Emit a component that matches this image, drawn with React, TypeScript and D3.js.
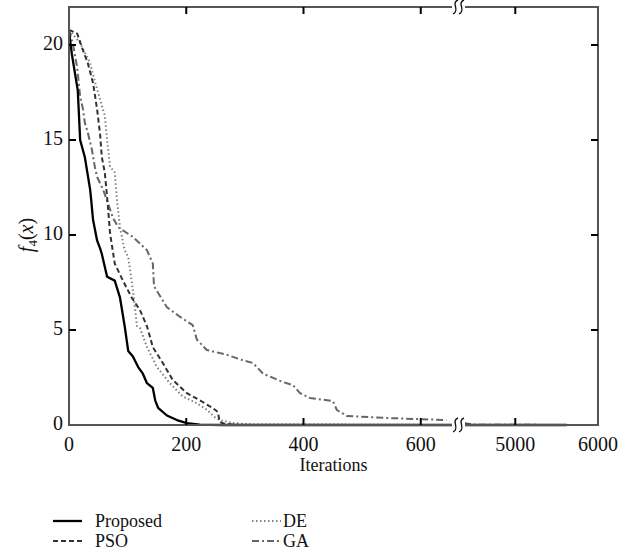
import React from "react";
import * as d3 from "d3";

// ---- data ----
const proposedIter = [0,5,15,19,27,36,38,41,48,53,56,65,78,87,95,101,109,118,126,133,143,147,152,167,184,201,223,260,655,4380,5620];
const proposedVal = [20.7,19.5,17.6,15.0,14.1,12.4,11.8,10.8,9.7,9.3,9.0,7.8,7.6,6.7,5.2,3.9,3.6,3.05,2.7,2.2,1.95,1.3,0.9,0.5,0.26,0.1,0.02,0,0,0,0];

const psoIter = [0,14,24,32,41,48,53,56,61,65,70,78,92,107,121,133,143,160,177,201,223,245,254,257,266,290,655,4380,5620];
const psoVal = [20.8,20.6,19.7,19.05,18,16.6,15.3,14.1,13.3,12,10.1,8.5,7.6,6.7,6.05,5.2,4.1,3.26,2.37,1.68,1.3,0.9,0.68,0.16,0.05,0,0,0,0];

const deIter = [0,19,36,44,58,61,65,70,78,82,87,95,101,109,116,121,133,150,172,194,218,235,249,257,280,314,470,655,4380,5620];
const deVal = [20.8,20.1,19.05,18.1,16.6,16.3,15.0,13.6,13.3,11.8,10.4,9.2,8.85,7.1,5.2,5.1,4.1,3.05,2.2,1.5,1.15,0.8,0.4,0.26,0.1,0.03,0.02,0,0,0];

const gaIter = [0,7,14,19,24,27,32,39,44,48,58,65,75,84,109,133,143,145,167,189,211,218,235,269,297,314,331,365,382,394,411,450,457,474,542,644,4380,4500,5620];
const gaVal = [20.8,20,18.8,17.3,16.6,15.9,15.4,14.5,13.6,13.05,12.4,11.8,10.9,10.4,9.9,9.2,8.5,7.3,6.2,5.7,5.26,4.5,3.95,3.7,3.4,3.26,2.7,2.26,2.1,1.68,1.42,1.26,0.79,0.47,0.37,0.26,0.1,0.02,0];

const xTicks1 = [0, 200, 400, 600];
const xTicks2 = [5000, 6000];
const yTicks = [0, 5, 10, 15, 20];

const seriesNames = ["Proposed", "PSO", "DE", "GA"];

// ---- layout ----
const W = 636, H = 556;
const L = 69, R = 598, T = 7, B = 425;
const breakL = 452, breakR = 465;
const seg1Max = 655, seg2Min = 4380;

const x1 = d3.scaleLinear().domain([0, seg1Max]).range([L, 453]);
const x2 = d3.scaleLinear().domain([seg2Min, 6000]).range([464, R]);
const y = d3.scaleLinear().domain([0, 22]).range([B, T]);
const xPos = (v: number) => (v <= seg1Max ? x1(v) : x2(v));

const styles: Record<string, { stroke: string; width: number; dash?: string }> = {
  Proposed: { stroke: "#000", width: 2.3 },
  PSO: { stroke: "#333", width: 2, dash: "5,3" },
  DE: { stroke: "#808080", width: 2, dash: "1.5,2.5" },
  GA: { stroke: "#666", width: 2, dash: "7,3,2,3" },
};

const seriesData: Record<string, [number[], number[]]> = {
  Proposed: [proposedIter, proposedVal],
  PSO: [psoIter, psoVal],
  DE: [deIter, deVal],
  GA: [gaIter, gaVal],
};

const line = d3
  .line<[number, number]>()
  .x((d) => xPos(d[0]))
  .y((d) => y(d[1]))
  .curve(d3.curveLinear);

const FONT = "'Liberation Serif', 'Times New Roman', serif";

function breakMark(cx: number, cy: number, key: string) {
  const s = (x: number) =>
    `M${x + 2.5},${cy - 7} C${x - 5},${cy - 4} ${x + 5},${cy + 3} ${x - 2.5},${cy + 7}`;
  return (
    <g key={key}>
      <rect x={breakL} y={cy - 3} width={breakR - breakL} height={6} fill="#fff" />
      <path d={s(cx - 3)} fill="none" stroke="#111" strokeWidth={1.4} />
      <path d={s(cx + 3)} fill="none" stroke="#111" strokeWidth={1.4} />
    </g>
  );
}

export default function App() {
  const order = ["GA", "DE", "PSO", "Proposed"];
  const paths: React.ReactNode[] = [];
  order.forEach((name) => {
    const [it, vals] = seriesData[name];
    const pts: [number, number][] = it.map((v, i) => [v, vals[i]]);
    const s1 = pts.filter((p) => p[0] <= seg1Max);
    const s2 = pts.filter((p) => p[0] >= seg2Min);
    const st = styles[name];
    [s1, s2].forEach((seg, k) => {
      if (seg.length < 2) return;
      paths.push(
        <path
          key={name + k}
          d={line(seg) || ""}
          fill="none"
          stroke={st.stroke}
          strokeWidth={st.width}
          strokeDasharray={st.dash}
          strokeLinejoin="round"
        />
      );
    });
  });

  const axisColor = "#555";
  const tickLen = 7;
  const allXTicks = [
    ...xTicks1.map((v) => ({ v, px: x1(v) })),
    ...xTicks2.map((v) => ({ v, px: x2(v) })),
  ];

  const legendRows = [
    { name: seriesNames[0], lx: 53, ly: 521 },
    { name: seriesNames[1], lx: 53, ly: 541 },
    { name: seriesNames[2], lx: 252, ly: 521 },
    { name: seriesNames[3], lx: 252, ly: 541 },
  ];

  return (
    <div style={{ position: "fixed", left: 0, top: 0, width: W, height: H, background: "#fff" }}>
      <svg width={W} height={H} style={{ display: "block" }}>
        <rect x={0} y={0} width={W} height={H} fill="#fff" />
        {paths}
        {/* frame */}
        <line x1={L} y1={T} x2={L} y2={B} stroke={axisColor} strokeWidth={2} />
        <line x1={R} y1={T} x2={R} y2={B} stroke={axisColor} strokeWidth={2} />
        <line x1={L - 1} y1={T} x2={breakL} y2={T} stroke={axisColor} strokeWidth={2} />
        <line x1={breakR} y1={T} x2={R + 1} y2={T} stroke={axisColor} strokeWidth={2} />
        <line x1={L - 1} y1={B} x2={breakL} y2={B} stroke={axisColor} strokeWidth={2} />
        <line x1={breakR} y1={B} x2={R + 1} y2={B} stroke={axisColor} strokeWidth={2} />
        {breakMark((breakL + breakR) / 2, T, "bt")}
        {breakMark((breakL + breakR) / 2, B, "bb")}
        {/* x ticks */}
        {allXTicks.map((t) => (
          <g key={"xt" + t.v}>
            {t.v !== 0 && t.v !== 6000 && (
              <>
                <line x1={t.px} x2={t.px} y1={B} y2={B - tickLen} stroke="#000" strokeWidth={2} />
                <line x1={t.px} x2={t.px} y1={T} y2={T + tickLen} stroke="#000" strokeWidth={2} />
              </>
            )}
            <text x={t.px} y={451} textAnchor="middle" fontFamily={FONT} fontSize={20} fill="#111">
              {t.v}
            </text>
          </g>
        ))}
        {/* y ticks */}
        {yTicks.map((v) => (
          <g key={"yt" + v}>
            {v !== 0 && (
              <>
                <line x1={L} x2={L + tickLen} y1={y(v)} y2={y(v)} stroke="#000" strokeWidth={2} />
                <line x1={R} x2={R - tickLen} y1={y(v)} y2={y(v)} stroke="#000" strokeWidth={2} />
              </>
            )}
            <text x={63} y={y(v) - 2} dy="0.33em" textAnchor="end" fontFamily={FONT} fontSize={20} fill="#111">
              {v}
            </text>
          </g>
        ))}
        {/* axis titles */}
        <text x={(L + R) / 2} y={471} textAnchor="middle" fontFamily={FONT} fontSize={18} fill="#111">
          Iterations
        </text>
        <text
          transform={`translate(33, ${y(10)}) rotate(-90)`}
          textAnchor="middle"
          fontFamily={FONT}
          fontSize={20}
          fill="#111"
        >
          <tspan fontStyle="italic">f</tspan>
          <tspan fontSize={13} dy={4}>4</tspan>
          <tspan dy={-4}>(</tspan>
          <tspan fontStyle="italic">x</tspan>
          <tspan>)</tspan>
        </text>
        {/* legend */}
        {legendRows.map((r) => {
          const st = styles[r.name];
          return (
            <g key={"lg" + r.name}>
              <line
                x1={r.lx}
                x2={r.lx + 29}
                y1={r.ly}
                y2={r.ly}
                stroke={st.stroke}
                strokeWidth={st.width}
                strokeDasharray={st.dash}
              />
              <text x={r.lx + (r.lx < 100 ? 42 : 31)} y={r.ly + 6} fontFamily={FONT} fontSize={18} fill="#111">
                {r.name}
              </text>
            </g>
          );
        })}
      </svg>
    </div>
  );
}
